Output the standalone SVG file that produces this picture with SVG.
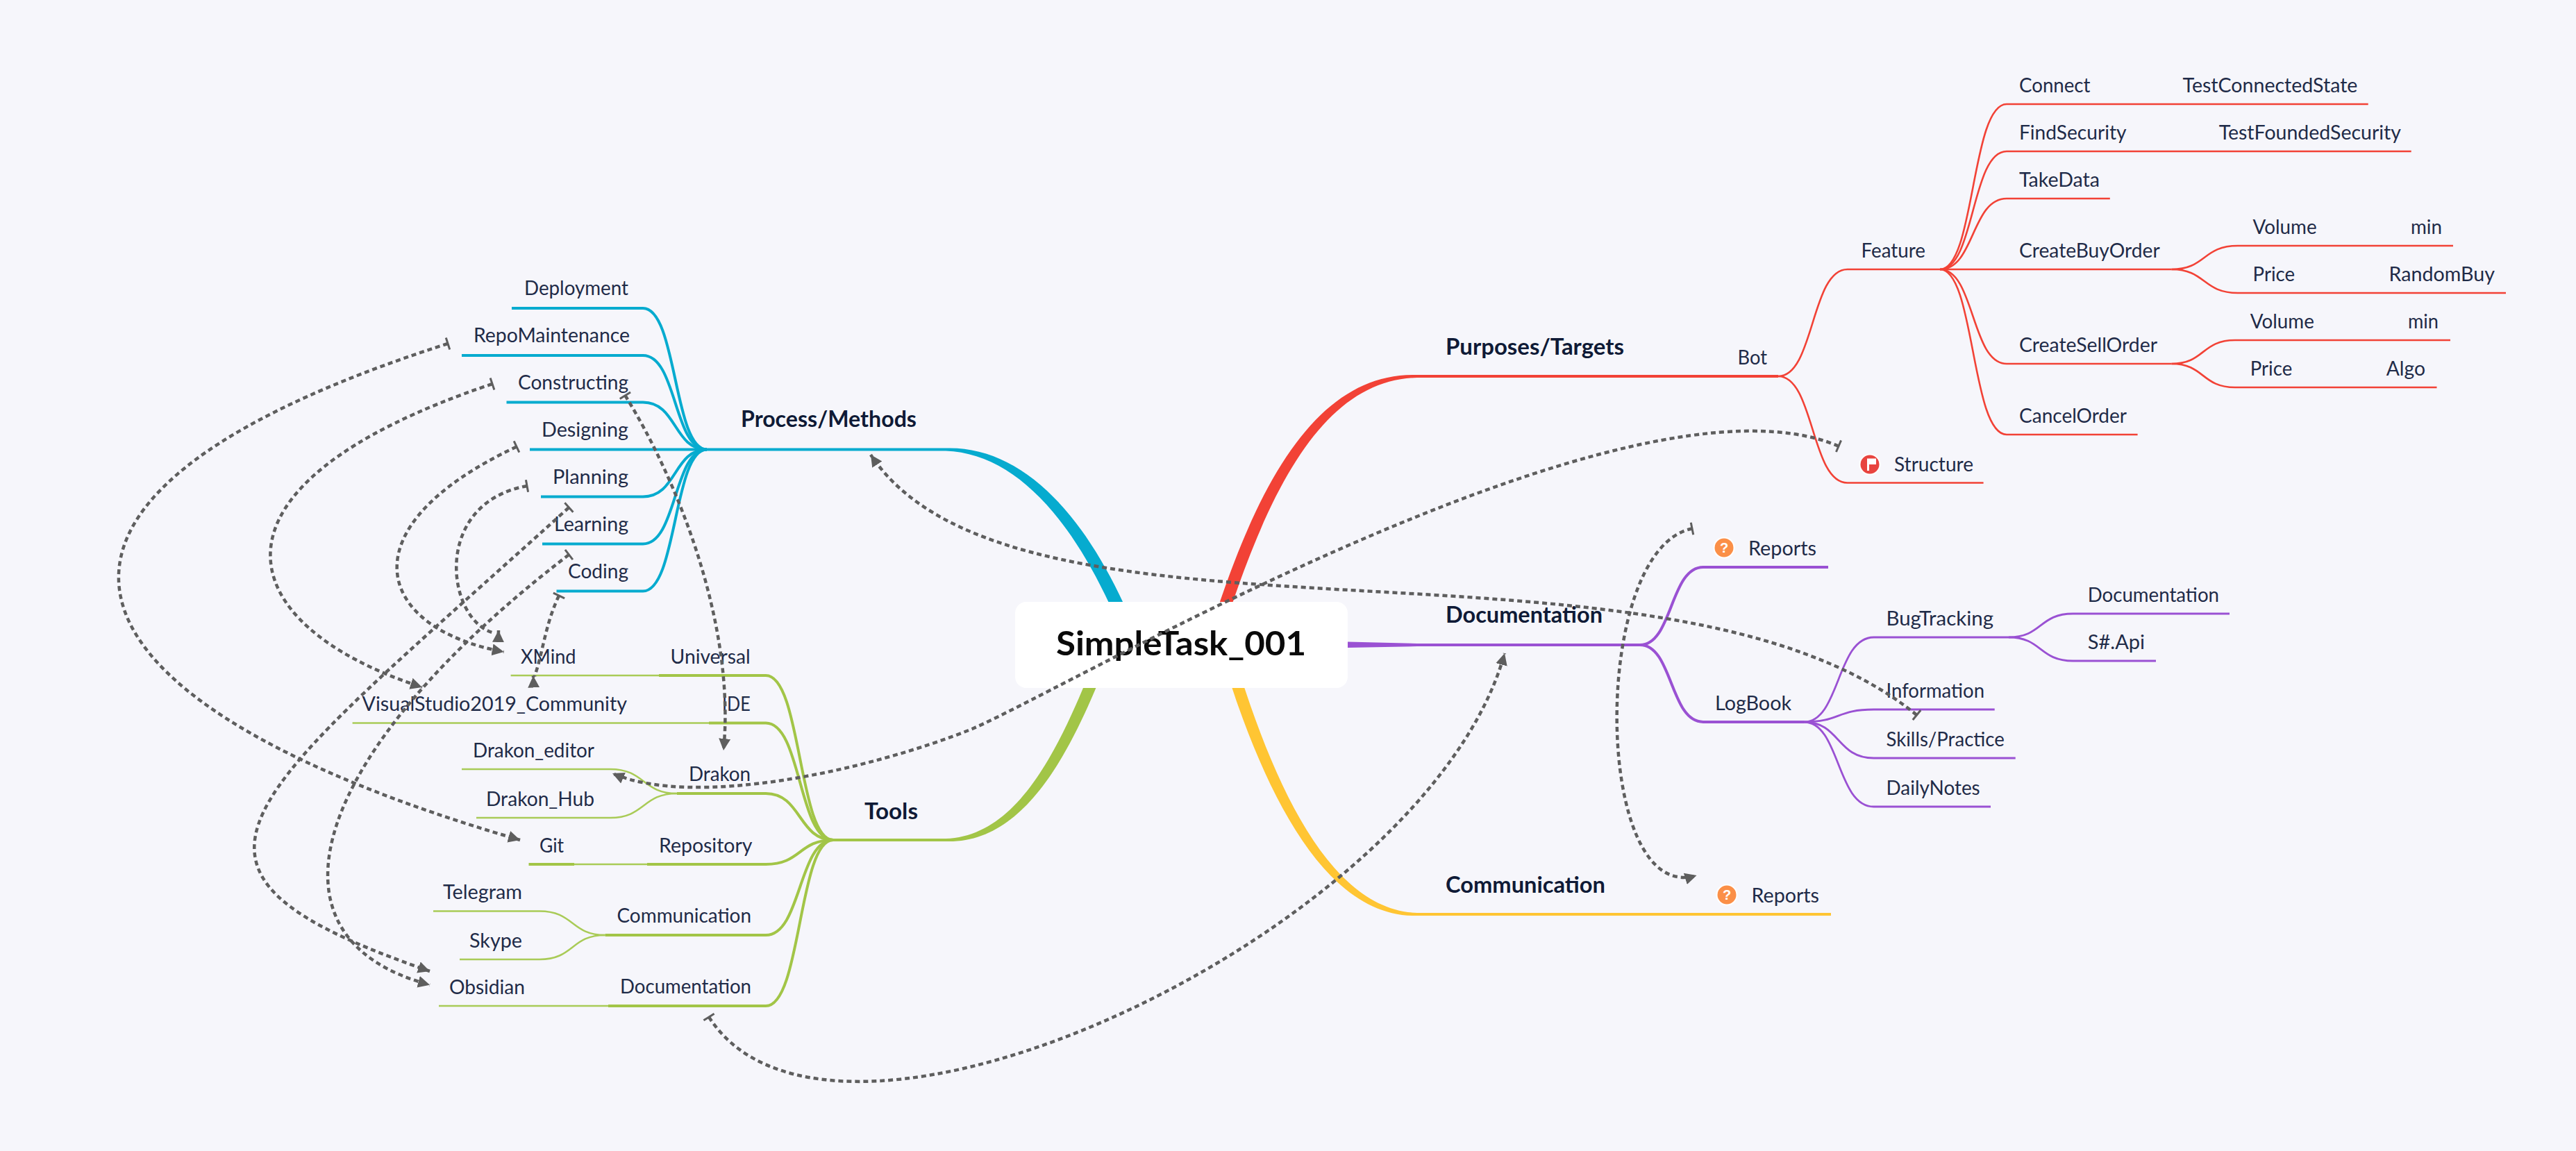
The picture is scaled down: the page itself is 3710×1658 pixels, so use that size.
<svg xmlns="http://www.w3.org/2000/svg" width="3710" height="1658" viewBox="0 0 3710 1658">
<style>
text{font-family:"Lato","Noto Sans","Liberation Sans",sans-serif;fill:#1f2b48;font-size:28px}
.h{font-weight:700;font-size:32px;fill:#0f1a36}
.c{font-weight:700;font-size:47px;fill:#0a0a0a}
.q{font-weight:900;font-size:20px;fill:#fff;font-family:"Liberation Sans",sans-serif}
path{fill:none;stroke-linejoin:round}
.bl{stroke:#06abcf;stroke-width:4}
.gr{stroke:#a2c547;stroke-width:4}
.g2{stroke:#a9cb57;stroke-width:2.5}
.re{stroke:#f24236;stroke-width:2.6}
.r1{stroke:#f24236;stroke-width:4}
.pu{stroke:#9a51d3;stroke-width:2.8}
.p1{stroke:#9a51d3;stroke-width:4}
.ye{stroke:#ffc533;stroke-width:4}
.rel{stroke:#5e5e5e;stroke-width:4.5;stroke-dasharray:7 5;marker-start:url(#tbar);marker-end:url(#tri)}
</style>
<defs>
<marker id="tri" markerUnits="userSpaceOnUse" markerWidth="19" markerHeight="20" viewBox="0 0 19 20" refX="17" refY="10" orient="auto"><polygon points="0,1.5 17,10 0,18.5" fill="#5e5e5e"/></marker>
<marker id="tbar" markerUnits="userSpaceOnUse" markerWidth="6" markerHeight="20" viewBox="0 0 6 20" refX="3" refY="10" orient="auto"><rect x="1.5" y="1" width="3" height="18" fill="#5e5e5e"/></marker>
</defs>
<rect width="3710" height="1658" fill="#f6f6fb"/>
<g id="connectors">
<path style="fill:#06abcf" d="M1362,645.5C1484,641.5 1589,764 1660,975L1640,975C1571,776 1476,653.5 1362,649.5Z"/>
<path style="fill:#a2c547" d="M1362,1208C1476,1204 1537,1055 1596,900L1614,900C1553,1066 1484,1216 1362,1212Z"/>
<path style="fill:#f24236" d="M2041,540C1896,536 1801,695 1721,985L1739,985C1819,705 1904,548 2041,544Z"/>
<path style="fill:#ffc533" d="M2041,1319C1896,1323 1802,1105 1741,880L1759,880C1818,1095 1904,1311 2041,1315Z"/>
<path style="fill:#9a51d3" d="M1941,924.5L2041,927L2041,931L1941,933Z"/>
<path class="bl" d="M1018,647.5H1362"/>
<path class="bl" d="M1018,647.5C970,647.5 975,444 926,444H737"/>
<path class="bl" d="M1018,647.5C970,647.5 975,512 926,512H665"/>
<path class="bl" d="M1018,647.5C970,647.5 975,579.5 926,579.5H729.5"/>
<path class="bl" d="M1018,647.5H763"/>
<path class="bl" d="M1018,647.5C970,647.5 975,715.5 926,715.5H779"/>
<path class="bl" d="M1018,647.5C970,647.5 975,783.5 926,783.5H781"/>
<path class="bl" d="M1018,647.5C970,647.5 975,851.5 926,851.5H801.5"/>
<path class="gr" d="M1200,1210H1362"/>
<path class="gr" d="M1200,1210C1150,1210 1154,973 1103,973H949"/>
<path class="g2" d="M949,973H735.6"/>
<path class="gr" d="M1200,1210C1150,1210 1154,1041.5 1103,1041.5H1021"/>
<path class="g2" d="M1021,1041.5H507.6"/>
<path class="gr" d="M1200,1210C1150,1210 1154,1143 1103,1143H975"/>
<path class="g2" d="M975,1143C925,1143 929,1108 879,1108H665"/>
<path class="g2" d="M975,1143C925,1143 929,1178 879,1178H686"/>
<path class="gr" d="M1200,1210C1150,1210 1154,1245 1103,1245H932"/>
<path class="g2" d="M932,1245H827"/>
<path class="gr" d="M827,1245H761.5"/>
<path class="gr" d="M1200,1210C1150,1210 1154,1347 1103,1347H871.6"/>
<path class="g2" d="M871.6,1347C822,1347 827,1312.5 777,1312.5H624"/>
<path class="g2" d="M871.6,1347C822,1347 827,1382 777,1382H662"/>
<path class="gr" d="M1200,1210C1150,1210 1154,1449 1103,1449H876"/>
<path class="g2" d="M876,1449H632"/>
<path class="r1" d="M2041,542H2561"/>
<path class="re" d="M2561,542C2613,542 2608,388 2660.7,388H2794"/>
<path class="re" d="M2561,542C2613,542 2608,695.5 2660.7,695.5H2856.6"/>
<path class="re" d="M2794,388C2844,388 2839,150 2890,150H3410.7"/>
<path class="re" d="M2794,388C2844,388 2839,218 2890,218H3472.7"/>
<path class="re" d="M2794,388C2844,388 2839,286 2890,286H3038.8"/>
<path class="re" d="M2794,388H3127.5"/>
<path class="re" d="M2794,388C2844,388 2839,524 2890,524H3127.5"/>
<path class="re" d="M2794,388C2844,388 2839,626 2890,626H3078.6"/>
<path class="re" d="M3127.5,388C3177,388 3172,354 3223,354H3533"/>
<path class="re" d="M3127.5,388C3177,388 3172,422 3223,422H3609"/>
<path class="re" d="M3127.5,524C3175,524 3170.5,490 3219,490H3529"/>
<path class="re" d="M3127.5,524C3175,524 3170.5,558 3219,558H3509.5"/>
<path class="p1" d="M2041,929H2362"/>
<path class="p1" d="M2362,929C2409,929 2405,817 2453,817H2633"/>
<path class="p1" d="M2362,929C2409,929 2405,1040 2453,1040H2598"/>
<path class="pu" d="M2598,1040C2650,1040 2645,918 2698.6,918H2893"/>
<path class="pu" d="M2598,1040C2650,1040 2645,1022 2698.6,1022H2872.7"/>
<path class="pu" d="M2598,1040C2650,1040 2645,1092 2698.6,1092H2902.7"/>
<path class="pu" d="M2598,1040C2650,1040 2645,1162 2698.6,1162H2867"/>
<path class="pu" d="M2893,918C2941,918 2936.5,884 2985.6,884H3211"/>
<path class="pu" d="M2893,918C2941,918 2936.5,952 2985.6,952H3105"/>
<path class="ye" d="M2041,1317H2637"/>
</g>
<g id="central"><rect x="1462" y="867" width="479" height="124" rx="16" fill="#fff"/><text class="c" x="1521" y="944" textLength="360" lengthAdjust="spacingAndGlyphs">SimpleTask_001</text></g>
<g id="process"><text class="h" x="1067" y="615" textLength="253" lengthAdjust="spacingAndGlyphs">Process/Methods</text></g>
<g id="tools"><text class="h" x="1245" y="1180" textLength="77" lengthAdjust="spacingAndGlyphs">Tools</text></g>
<g id="purposes"><text class="h" x="2082" y="510.5" textLength="257" lengthAdjust="spacingAndGlyphs">Purposes/Targets</text></g>
<g id="documentation"><text class="h" x="2082" y="896.5" textLength="226" lengthAdjust="spacingAndGlyphs">Documentation</text></g>
<g id="communication"><text class="h" x="2082" y="1286" textLength="230" lengthAdjust="spacingAndGlyphs">Communication</text></g>
<g id="deployment"><text x="755" y="425" textLength="150" lengthAdjust="spacingAndGlyphs">Deployment</text></g>
<g id="repomaintenance"><text x="682" y="493" textLength="225" lengthAdjust="spacingAndGlyphs">RepoMaintenance</text></g>
<g id="constructing"><text x="746" y="561" textLength="159" lengthAdjust="spacingAndGlyphs">Constructing</text></g>
<g id="designing"><text x="780" y="629" textLength="125" lengthAdjust="spacingAndGlyphs">Designing</text></g>
<g id="planning"><text x="796" y="697" textLength="109" lengthAdjust="spacingAndGlyphs">Planning</text></g>
<g id="learning"><text x="798" y="765" textLength="107" lengthAdjust="spacingAndGlyphs">Learning</text></g>
<g id="coding"><text x="818" y="833" textLength="87" lengthAdjust="spacingAndGlyphs">Coding</text></g>
<g id="xmind"><text x="750" y="956" textLength="79.5" lengthAdjust="spacingAndGlyphs">XMind</text></g>
<g id="universal"><text x="965.6" y="956" textLength="115" lengthAdjust="spacingAndGlyphs">Universal</text></g>
<g id="vs"><text x="521.6" y="1024" textLength="381.4" lengthAdjust="spacingAndGlyphs">VisualStudio2019_Community</text></g>
<g id="ide"><text x="1040" y="1024" textLength="40.7" lengthAdjust="spacingAndGlyphs">IDE</text></g>
<g id="drakon_editor"><text x="681" y="1091" textLength="175" lengthAdjust="spacingAndGlyphs">Drakon_editor</text></g>
<g id="drakon"><text x="992" y="1125" textLength="89" lengthAdjust="spacingAndGlyphs">Drakon</text></g>
<g id="drakon_hub"><text x="700" y="1161" textLength="156" lengthAdjust="spacingAndGlyphs">Drakon_Hub</text></g>
<g id="git"><text x="777" y="1228" textLength="35" lengthAdjust="spacingAndGlyphs">Git</text></g>
<g id="repository"><text x="949" y="1228" textLength="134.5" lengthAdjust="spacingAndGlyphs">Repository</text></g>
<g id="telegram"><text x="638" y="1295" textLength="114" lengthAdjust="spacingAndGlyphs">Telegram</text></g>
<g id="skype"><text x="676" y="1365" textLength="76" lengthAdjust="spacingAndGlyphs">Skype</text></g>
<g id="tool-communication"><text x="888.5" y="1328.6" textLength="193.5" lengthAdjust="spacingAndGlyphs">Communication</text></g>
<g id="obsidian"><text x="647" y="1432" textLength="109" lengthAdjust="spacingAndGlyphs">Obsidian</text></g>
<g id="tool-documentation"><text x="893" y="1431" textLength="189" lengthAdjust="spacingAndGlyphs">Documentation</text></g>
<g id="bot"><text x="2502.6" y="524.5" textLength="42.4" lengthAdjust="spacingAndGlyphs">Bot</text></g>
<g id="feature"><text x="2680.6" y="371" textLength="92.4" lengthAdjust="spacingAndGlyphs">Feature</text></g>
<g id="structure"><circle cx="2693" cy="669" r="15.5" fill="#fff"/><circle cx="2693" cy="669" r="13.5" fill="#e8443f"/><path style="fill:#fff" d="M2689,660.5H2702V669H2692V678H2689Z"/><text x="2728" y="678.5" textLength="114" lengthAdjust="spacingAndGlyphs">Structure</text></g>
<g id="connect"><text x="2908" y="133" textLength="102.5" lengthAdjust="spacingAndGlyphs">Connect</text></g>
<g id="testconnected"><text x="3143.6" y="133" textLength="251.8" lengthAdjust="spacingAndGlyphs">TestConnectedState</text></g>
<g id="findsecurity"><text x="2908" y="201" textLength="154.5" lengthAdjust="spacingAndGlyphs">FindSecurity</text></g>
<g id="testfounded"><text x="3195.7" y="201" textLength="262.3" lengthAdjust="spacingAndGlyphs">TestFoundedSecurity</text></g>
<g id="takedata"><text x="2908" y="269" textLength="116" lengthAdjust="spacingAndGlyphs">TakeData</text></g>
<g id="createbuy"><text x="2908" y="371" textLength="202.7" lengthAdjust="spacingAndGlyphs">CreateBuyOrder</text></g>
<g id="volume1"><text x="3244.6" y="336.8" textLength="92" lengthAdjust="spacingAndGlyphs">Volume</text></g>
<g id="min1"><text x="3472" y="336.8" textLength="45" lengthAdjust="spacingAndGlyphs">min</text></g>
<g id="price1"><text x="3244.6" y="404.8" textLength="60.4" lengthAdjust="spacingAndGlyphs">Price</text></g>
<g id="randombuy"><text x="3440.6" y="404.8" textLength="152.4" lengthAdjust="spacingAndGlyphs">RandomBuy</text></g>
<g id="createsell"><text x="2908" y="506.7" textLength="199" lengthAdjust="spacingAndGlyphs">CreateSellOrder</text></g>
<g id="volume2"><text x="3240.8" y="472.8" textLength="92" lengthAdjust="spacingAndGlyphs">Volume</text></g>
<g id="min2"><text x="3468" y="472.8" textLength="44" lengthAdjust="spacingAndGlyphs">min</text></g>
<g id="price2"><text x="3240.8" y="540.7" textLength="60.4" lengthAdjust="spacingAndGlyphs">Price</text></g>
<g id="algo"><text x="3436.7" y="540.7" textLength="56.3" lengthAdjust="spacingAndGlyphs">Algo</text></g>
<g id="cancelorder"><text x="2908" y="608.7" textLength="155" lengthAdjust="spacingAndGlyphs">CancelOrder</text></g>
<g id="reports-doc"><circle cx="2483" cy="789" r="15.5" fill="#fff"/><circle cx="2483" cy="789" r="13.5" fill="#fb8f47"/><text class="q" x="2483" y="796" text-anchor="middle">?</text><text x="2518" y="800" textLength="98" lengthAdjust="spacingAndGlyphs">Reports</text></g>
<g id="logbook"><text x="2470" y="1022.6" textLength="110" lengthAdjust="spacingAndGlyphs">LogBook</text></g>
<g id="bugtracking"><text x="2716.5" y="901" textLength="154.5" lengthAdjust="spacingAndGlyphs">BugTracking</text></g>
<g id="doc-sub"><text x="3006.7" y="867" textLength="189.3" lengthAdjust="spacingAndGlyphs">Documentation</text></g>
<g id="sapi"><text x="3006.7" y="934.7" textLength="82.3" lengthAdjust="spacingAndGlyphs">S#.Api</text></g>
<g id="information"><text x="2716.5" y="1005" textLength="141.5" lengthAdjust="spacingAndGlyphs">Information</text></g>
<g id="skills"><text x="2716.5" y="1075" textLength="170.3" lengthAdjust="spacingAndGlyphs">Skills/Practice</text></g>
<g id="dailynotes"><text x="2716.5" y="1145" textLength="135.2" lengthAdjust="spacingAndGlyphs">DailyNotes</text></g>
<g id="reports-comm"><circle cx="2487" cy="1289" r="15.5" fill="#fff"/><circle cx="2487" cy="1289" r="13.5" fill="#fb8f47"/><text class="q" x="2487" y="1296" text-anchor="middle">?</text><text x="2522.5" y="1300" textLength="97.5" lengthAdjust="spacingAndGlyphs">Reports</text></g>
<g id="relationships">
<path class="rel" d="M645,495C-60,720 60,1010 749,1210"/>
<path class="rel" d="M709,553C270,700 330,900 608,990"/>
<path class="rel" d="M744,643.5C495,760 540,905 725.7,939"/>
<path class="rel" d="M759,700C620,725 643,895 712,912M717.5,925L718,908"/>
<path class="rel" d="M819.4,731C345,1160 187,1250 619,1399"/>
<path class="rel" d="M819.4,799C452,1080 361,1350 619,1418.7"/>
<path class="rel" d="M805,858C785,900 782,940 770,974M768.6,988L768,973.5"/>
<path class="rel" d="M900.4,569.7C975,690 1060,900 1042,1081"/>
<path class="rel" d="M2648,642.7C2350,515 1550,985 1400,1050C1250,1110 1000,1165 882,1114"/>
<path class="rel" d="M1021,1465C1200,1745 2057,1340 2167,941"/>
<path class="rel" d="M2437,761.5C2290,790 2293,1307 2443.5,1261"/>
<path class="rel" d="M2760.5,1030C2400,735 1462,971 1254,655"/>
</g>
</svg>
